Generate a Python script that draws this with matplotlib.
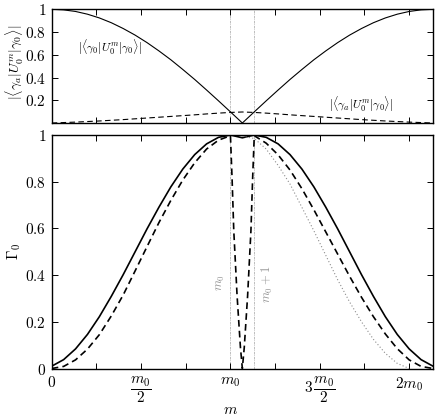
import matplotlib
matplotlib.use("Agg")
import matplotlib.pyplot as plt

plt.rcParams['mathtext.fontset'] = 'cm'
plt.rcParams['font.family'] = ['DejaVu Serif']

# ---------------- data ----------------
m0 = 7.5
m_half = [i * 0.5 for i in range(33)]  # 0 .. 16 step 0.5

# top panel: |<g0|U^m|g0>| (solid) and |<ga|U^m|g0>| (dashed)
top_solid = [1.0, 0.995, 0.981, 0.957, 0.924, 0.882, 0.831, 0.773, 0.707, 0.634,
             0.556, 0.471, 0.383, 0.290, 0.195, 0.098, 0.0,
             0.098, 0.195, 0.290, 0.383, 0.471, 0.556, 0.634, 0.707, 0.773,
             0.831, 0.882, 0.924, 0.957, 0.981, 0.995, 1.0]
top_dashed = [0.0, 0.004, 0.008, 0.013, 0.018, 0.024, 0.030, 0.037, 0.044, 0.051,
              0.058, 0.065, 0.072, 0.080, 0.087, 0.093, 0.097,
              0.093, 0.087, 0.080, 0.072, 0.065, 0.058, 0.051, 0.044, 0.037,
              0.030, 0.024, 0.018, 0.013, 0.008, 0.004, 0.0]

# bottom panel: Gamma_0
gamma_solid = [0.010, 0.038, 0.084, 0.146, 0.222, 0.309, 0.402, 0.500, 0.598, 0.691,
               0.778, 0.854, 0.916, 0.962, 0.990, 1.0, 0.988,
               1.0, 0.990, 0.962, 0.916, 0.854, 0.778, 0.691, 0.598, 0.500,
               0.402, 0.309, 0.222, 0.146, 0.084, 0.038, 0.010]

dashed_m = [0, 0.5, 1, 1.5, 2, 2.5, 3, 3.5, 4, 4.5, 5, 5.5, 6, 6.5, 7, 7.5,
            7.57, 7.64, 7.78, 7.92, 8.0, 8.08, 8.22, 8.36, 8.43,
            8.5, 9, 9.5, 10, 10.5, 11, 11.5, 12, 12.5, 13, 13.5, 14, 14.5, 15, 15.5, 16]
gamma_dashed = [0.0, 0.009, 0.037, 0.083, 0.145, 0.225, 0.315, 0.418, 0.522, 0.625,
                0.720, 0.807, 0.881, 0.940, 0.978, 0.997,
                0.81, 0.59, 0.31, 0.09, 0.0, 0.09, 0.31, 0.59, 0.81,
                0.997, 0.965, 0.915, 0.850, 0.770, 0.680, 0.585, 0.490, 0.395,
                0.305, 0.222, 0.148, 0.085, 0.037, 0.009, 0.0]

dotted_m = [8, 8.5, 9, 9.5, 10, 10.5, 11, 11.5, 12, 12.5, 13, 13.5, 14, 14.5, 15]
gamma_dotted = [0.995, 0.985, 0.94, 0.87, 0.79, 0.69, 0.59, 0.485, 0.38, 0.285,
                0.20, 0.125, 0.065, 0.022, 0.0]

xtick_pos = [0, m0 / 2, m0, 3 * m0 / 2, 2 * m0]
xtick_labels = [r'$0$', r'$\dfrac{m_0}{2}$', r'$m_0$', r'$3\,\dfrac{m_0}{2}$', r'$2m_0$']
xminor_pos = [m0 / 4, 3 * m0 / 4, 5 * m0 / 4, 7 * m0 / 4]
top_yticks = [0.2, 0.4, 0.6, 0.8, 1.0]
top_ylabels = [r'$0.2$', r'$0.4$', r'$0.6$', r'$0.8$', r'$1$']
bot_yticks = [0, 0.2, 0.4, 0.6, 0.8, 1.0]
bot_ylabels = [r'$0$', r'$0.2$', r'$0.4$', r'$0.6$', r'$0.8$', r'$1$']

# ---------------- figure ----------------
fig = plt.figure(figsize=(4.36, 4.19), dpi=100)
L, W = 0.1186, 0.8745
ax1 = fig.add_axes([L, 0.7064, W, 0.2714])
ax2 = fig.add_axes([L, 0.1205, W, 0.5573])

for ax in (ax1, ax2):
    ax.set_xlim(0, 16)
    ax.set_ylim(0, 1)
    ax.set_xticks(xtick_pos)
    ax.set_xticks(xminor_pos, minor=True)
    ax.tick_params(which='both', direction='in', top=True, right=True,
                   length=4, width=0.7, labelsize=11, pad=4)
    for s in ax.spines.values():
        s.set_linewidth(1.0)
    ax.axvline(m0, color='0.7', lw=0.6, ls=(0, (3, 1, 1, 1)), zorder=1)
    ax.axvline(m0 + 1, color='0.7', lw=0.6, ls=(0, (3, 1, 1, 1)), zorder=1)

# top panel
ax1.plot(m_half, top_solid, color='black', lw=0.8)
ax1.plot(m_half, top_dashed, color='black', lw=0.8, dashes=(5, 3))
ax1.set_yticks(top_yticks)
ax1.set_yticklabels(top_ylabels)
ax1.set_xticklabels([])
ax1.text(2.45, 0.663, r'$|\langle\gamma_0|U_0^m|\gamma_0\rangle|$', fontsize=8.5,
         ha='center', va='center')
ax1.text(13.0, 0.165, r'$|\langle\gamma_a|U_0^m|\gamma_0\rangle|$', fontsize=8.5,
         ha='center', va='center')

# bottom panel
ax2.plot(m_half, gamma_solid, color='black', lw=1.2)
ax2.plot(dashed_m, gamma_dashed, color='black', lw=1.2, dashes=(4, 2.5))
ax2.plot(dotted_m, gamma_dotted, color='0.55', lw=0.8, ls=(0, (1, 2)))
ax2.set_yticks(bot_yticks)
ax2.set_yticklabels(bot_ylabels)
ax2.set_xticklabels(xtick_labels, va='top')
ax2.tick_params(axis='x', pad=5)

ax2.text(7.1, 0.37, r'$m_0$', rotation=90, color='0.6', fontsize=9,
         ha='center', va='center')
ax2.text(9.04, 0.36, r'$m_0+1$', rotation=90, color='0.6', fontsize=9,
         ha='center', va='center')

fig.text(0.033, 0.852, r'$|\langle\gamma_a|U_0^m|\gamma_0\rangle|$', rotation=90,
         fontsize=10, ha='center', va='center')
fig.text(0.032, 0.40, r'$\Gamma_0$', rotation=90, fontsize=11,
         ha='center', va='center')
fig.text(0.528, 0.022, r'$m$', fontsize=11, ha='center', va='center')

fig.savefig('out.png', dpi=100)
